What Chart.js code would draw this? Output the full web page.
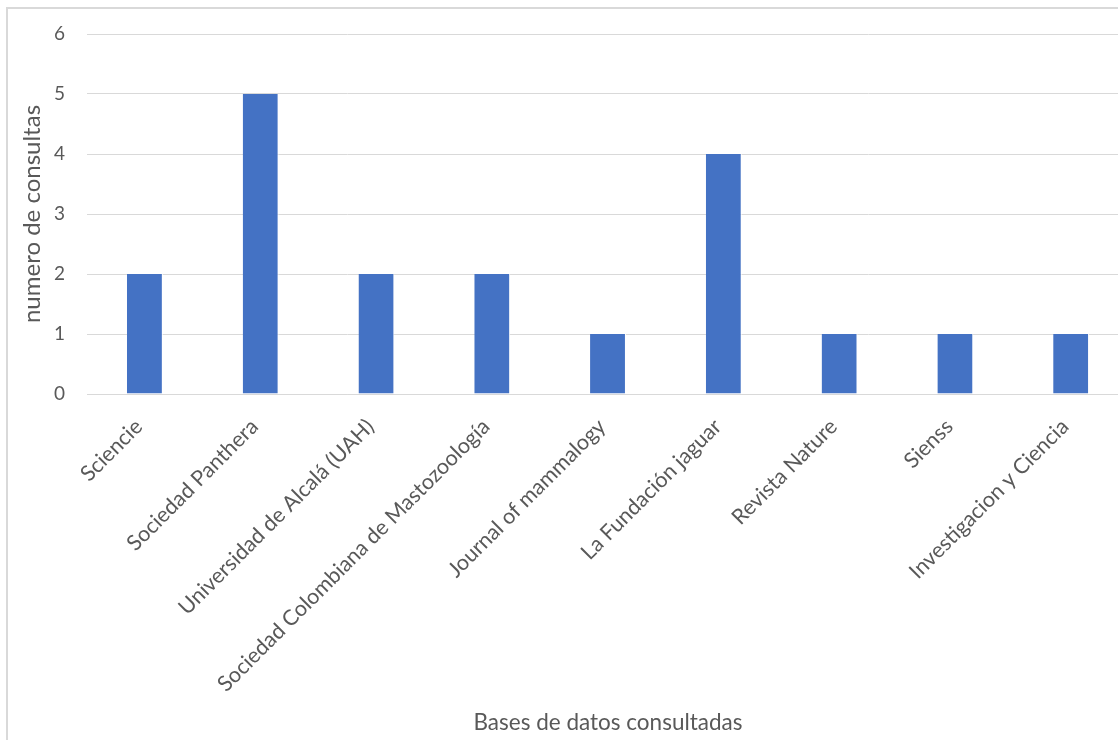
<!DOCTYPE html>
<html>
<head>
<meta charset="utf-8">
<script src="https://cdn.jsdelivr.net/npm/chart.js@4/dist/chart.umd.min.js"></script>
<style>
html,body{margin:0;padding:0;background:#fff;overflow:hidden;width:1118px;height:740px;}
#wrap{position:absolute;left:0;top:0;width:1140px;height:740px;}
#frame{position:absolute;left:6px;top:7px;width:1200px;height:800px;border:2px solid #d9d9d9;box-sizing:border-box;pointer-events:none;}
</style>
</head>
<body>
<div id="frame"></div>
<div id="wrap"><canvas id="c" width="1140" height="740"></canvas></div>
<script>
const categories = ["Sciencie","Sociedad Panthera","Universidad de Alcalá (UAH)","Sociedad Colombiana de Mastozoología","Journal of mammalogy","La Fundación jaguar","Revista Nature","Sienss","Investigacion y Ciencia"];
const consultas = [2,5,2,2,1,4,1,1,1];
const yTicks = [0,1,2,3,4,5,6];

const FONT = "Lato, 'Open Sans', sans-serif";
const TXT = "#595959";

new Chart(document.getElementById('c'), {
  type: 'bar',
  data: {
    labels: categories,
    datasets: [{
      data: consultas,
      backgroundColor: '#4472C4',
      borderColor: '#ffffff',
      borderWidth: {left:0, right:1, top:0, bottom:0},
      categoryPercentage: 1,
      barPercentage: 0.31
    }]
  },
  options: {
    responsive: false,
    animation: false,
    devicePixelRatio: 1,
    layout: {padding: {top: 34, right: 11, left: 0, bottom: 0}},
    plugins: {legend: {display: false}, tooltip: {enabled: false}},
    scales: {
      x: {
        grid: {display: false, drawTicks: false},
        border: {display: true, color: '#d9d9d9', width: 1},
        ticks: {color: TXT, font: {family: FONT, size: 21.5}, minRotation: 45, maxRotation: 45, padding: 20, labelOffset: -6, autoSkip: false},
        title: {display: true, text: 'Bases de datos consultadas', color: TXT, font: {family: FONT, size: 22.5}, padding: {top: 0, bottom: 4}},
        afterFit: (s) => { s.height = 346; }
      },
      y: {
        min: 0, max: 6,
        afterBuildTicks: (s) => { s.ticks = yTicks.map(v => ({value: v})); },
        grid: {color: '#d9d9d9', lineWidth: 1, drawTicks: false},
        border: {display: false},
        ticks: {color: TXT, font: {family: FONT, size: 19}, padding: 22},
        title: {display: true, text: 'numero de consultas', color: TXT, font: {family: FONT, size: 24}, padding: {top: 18, bottom: 0}},
        afterFit: (s) => { s.width = 87; }
      }
    }
  }
});
</script>
</body>
</html>
